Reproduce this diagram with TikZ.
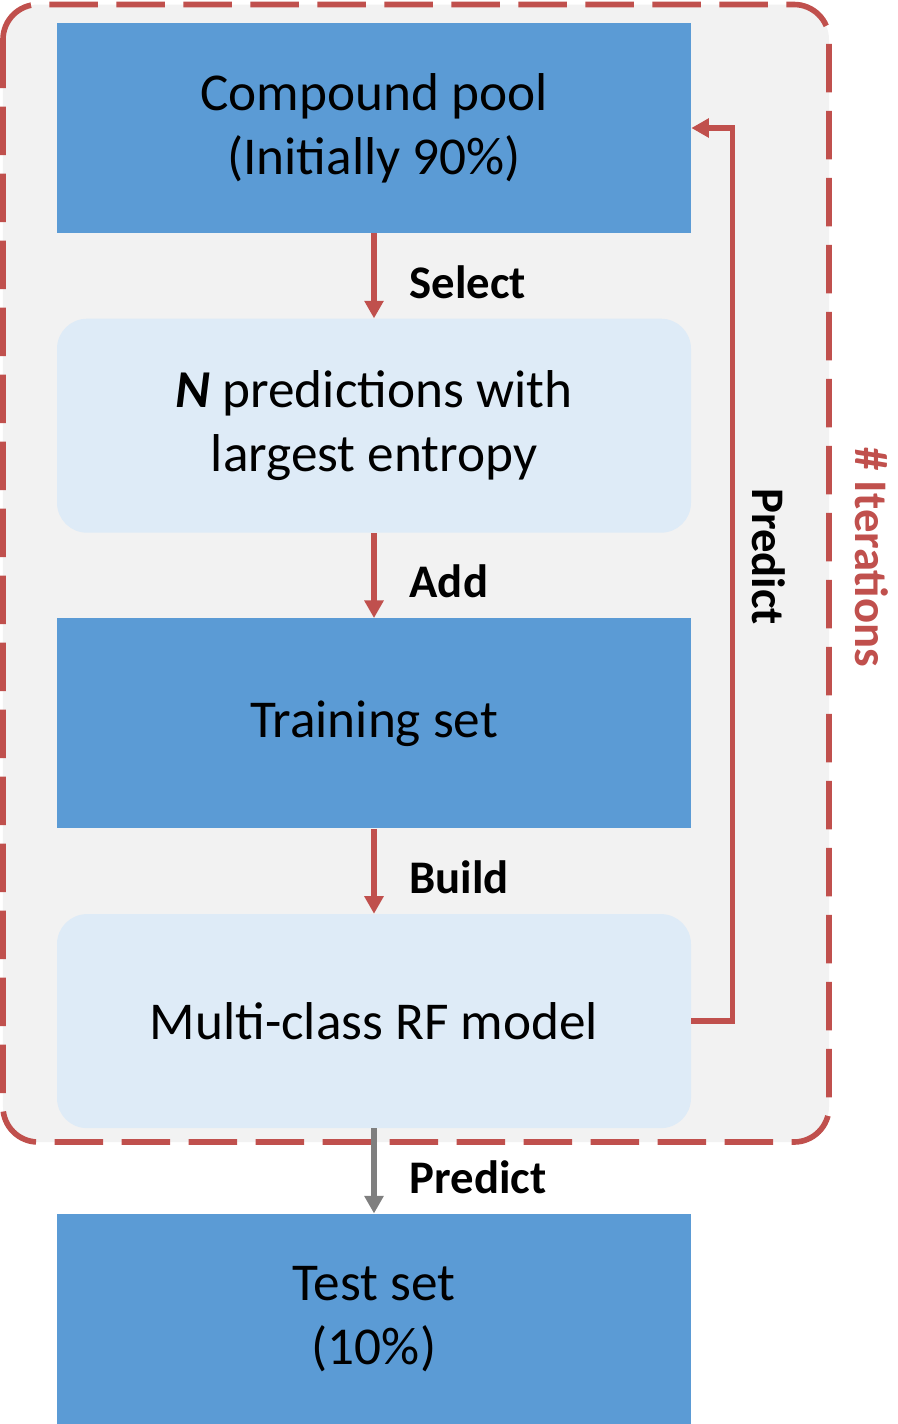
\documentclass[tikz,border=0pt]{standalone}
\usepackage{fontspec}
\setmainfont{Carlito}
\usepackage{xcolor}
\definecolor{alPool}{HTML}{5B9BD5}
\definecolor{alStep}{HTML}{DEEBF7}
\definecolor{alRed}{HTML}{C0504D}
\definecolor{alFrame}{HTML}{F2F2F2}
\definecolor{alGray}{HTML}{7F7F7F}
\usepackage{tikz}
\usetikzlibrary{arrows.meta,positioning,calc}
\tikzset{
    dataset/.style={
        draw=none,
        fill=alPool,
        rectangle,
        align=center,
        minimum height=4.2cm,
        minimum width=12.68cm,
        text=black,
        font=\fontsize{30.3}{36.5}\selectfont
    },
    process/.style={
        dataset,
        fill=alStep,
        minimum height=4.28cm,
        rounded corners=6mm
    },
    loopframe/.style={
        draw=alRed,
        fill=alFrame,
        line width=3.2pt,
        rounded corners=7mm,
        dash pattern=on 0.97cm off 0.37cm
    },
    arrow/.style={
        -{Triangle[width=10.5pt,length=10pt]},
        line width=3pt,
        color=alRed
    },
    grayarrow/.style={
        arrow,
        color=alGray
    },
    steplabel/.style={
        font=\bfseries\fontsize{26.6}{32}\selectfont,
        text=black,
        midway,
        anchor=west,
        inner sep=0pt,
        xshift=0.66cm,
        yshift=-0.12cm
    }
}

\begin{document}
\begin{tikzpicture}[node distance=1.7cm]
    \useasboundingbox (0,0) rectangle (17.96,-28.48);
    \draw[loopframe] (0.06,-0.09) rectangle (16.58,-22.84);

    \node[dataset] (pool) at (7.48,-2.56) {Compound pool\\(Initially 90\%)};
    \node[process, below=of pool] (picks) {\textbf{\textit{N}} predictions with\\largest entropy};
    \node[dataset, below=of picks] (train) {Training set};
    \node[process, below=of train] (model) {Multi-class RF model};
    \node[dataset, below=of model] (test) {Test set\\(10\%)};

    \draw[arrow] (pool) -- node[steplabel] {Select} (picks);
    \draw[arrow] (picks) -- node[steplabel] {Add} (train);
    \draw[arrow] (train) -- node[steplabel] {Build} (model);
    \draw[grayarrow] (model) -- node[steplabel] {Predict} (test);

    \coordinate (loopBot) at ($(model.east)+(0.82,0)$);
    \coordinate (loopTop) at ($(pool.east)+(0.82,0)$);
    \draw[arrow] (model.east) -- (loopBot) -- node[font=\bfseries\fontsize{26.6}{32}\selectfont, text=black, pos=0.52, xshift=0.72cm, rotate=-90] {Predict} (loopTop) -- (pool.east);

    \node[font=\bfseries\fontsize{26.6}{32}\selectfont, text=alRed, rotate=-90] (iters) at (17.44,-11.14) {\# Iterations};
\end{tikzpicture}
\end{document}
